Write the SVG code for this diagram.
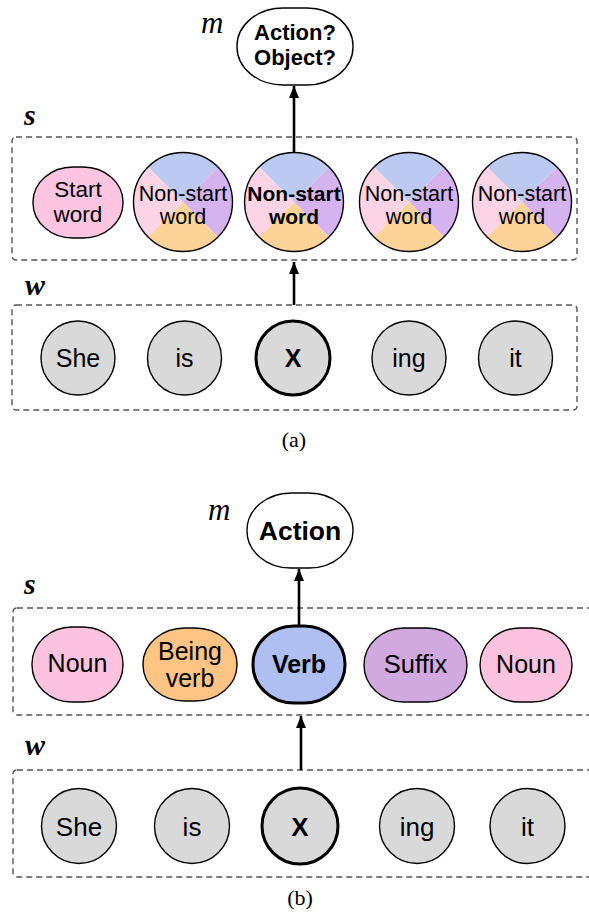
<svg xmlns="http://www.w3.org/2000/svg" xmlns:xlink="http://www.w3.org/1999/xlink" width="589" height="914" viewBox="0 0 589 914">
<style>
.lbl{font-family:"Liberation Sans",Arial,sans-serif;fill:#000;text-anchor:middle}
.b{font-weight:bold}
.var{font-family:"Liberation Serif","Times New Roman",serif;font-style:italic;fill:#000}
.cap{font-family:"Liberation Serif","Times New Roman",serif;fill:#000;text-anchor:middle;font-size:22px}
.box{fill:none;stroke:#555;stroke-width:1.4;stroke-dasharray:6 4}
.wn{fill:#d9d9d9;stroke:#000;stroke-width:1.4}
.thick{stroke-width:3}
.edge{stroke:#000;stroke-width:2.6;fill:none}
.ring{fill:none;stroke:#000;stroke-width:1.4}
</style>
<defs>
<marker id="ah" markerUnits="userSpaceOnUse" markerWidth="14" markerHeight="12" refX="12" refY="5" orient="auto">
<path d="M0,0 L12,5 L0,10 Z" fill="#000"/>
</marker>
<g id="quad">
<path d="M0,0 L-35,-35 A49.5,49.5 0 0 1 35,-35 Z" fill="#bccaf2"/>
<path d="M0,0 L35,-35 A49.5,49.5 0 0 1 35,35 Z" fill="#d5b3ee"/>
<path d="M0,0 L35,35 A49.5,49.5 0 0 1 -35,35 Z" fill="#fdd398"/>
<path d="M0,0 L-35,35 A49.5,49.5 0 0 1 -35,-35 Z" fill="#fdd4e6"/>
</g>
</defs>
<rect width="589" height="914" fill="#fff"/>

<!-- (a) -->
<text class="var" x="201" y="33" font-size="31">m</text>
<text class="var b" x="24" y="125" font-size="30">s</text>
<text class="var b" x="25" y="295" font-size="30">w</text>
<rect id="a_s_box" class="box" x="12" y="137" width="565" height="123" rx="4"/>
<rect id="a_w_box" class="box" x="12" y="305" width="565" height="105" rx="4"/>

<g id="a_m">
<rect x="237" y="8" width="116" height="77" rx="46" ry="38" fill="#fff" stroke="#000" stroke-width="1.4"/>
<text class="lbl b" x="295" y="40" font-size="22">Action?</text>
<text class="lbl b" x="295" y="65" font-size="22">Object?</text>
</g>

<g id="a_s1">
<rect x="33" y="167" width="90" height="71" rx="40" ry="35" fill="#fdc5e0" stroke="#000" stroke-width="1.4"/>
<text class="lbl" x="78" y="197" font-size="22.5">Start</text>
<text class="lbl" x="78" y="222" font-size="22.5">word</text>
</g>
<g id="a_s2">
<use xlink:href="#quad" x="183" y="202"/>
<circle class="ring" cx="183" cy="202" r="49.5"/>
<text class="lbl" x="183" y="201" font-size="21.5">Non-start</text>
<text class="lbl" x="183" y="224" font-size="21.5">word</text>
</g>
<g id="a_s3">
<use xlink:href="#quad" x="294" y="202"/>
<circle class="ring thick" cx="294" cy="202" r="49.5"/>
<text class="lbl b" x="294" y="201" font-size="21">Non-start</text>
<text class="lbl b" x="294" y="224" font-size="21">word</text>
</g>
<g id="a_s4">
<use xlink:href="#quad" x="409" y="202"/>
<circle class="ring" cx="409" cy="202" r="49.5"/>
<text class="lbl" x="409" y="201" font-size="21.5">Non-start</text>
<text class="lbl" x="409" y="224" font-size="21.5">word</text>
</g>
<g id="a_s5">
<use xlink:href="#quad" x="522" y="202"/>
<circle class="ring" cx="522" cy="202" r="49.5"/>
<text class="lbl" x="522" y="201" font-size="21.5">Non-start</text>
<text class="lbl" x="522" y="224" font-size="21.5">word</text>
</g>

<g id="a_w1"><circle class="wn" cx="78" cy="358" r="37"/><text class="lbl" x="78" y="367" font-size="25">She</text></g>
<g id="a_w2"><circle class="wn" cx="184.5" cy="358" r="37"/><text class="lbl" x="184.5" y="367" font-size="25">is</text></g>
<g id="a_w3"><circle class="wn thick" cx="293" cy="358" r="37"/><text class="lbl b" x="293" y="367" font-size="25">X</text></g>
<g id="a_w4"><circle class="wn" cx="409" cy="358" r="37"/><text class="lbl" x="409" y="367" font-size="25">ing</text></g>
<g id="a_w5"><circle class="wn" cx="515.5" cy="358" r="37"/><text class="lbl" x="515.5" y="367" font-size="25">it</text></g>

<text class="cap" x="294" y="447">(a)</text>

<!-- (b) -->
<text class="var" x="208" y="520" font-size="31">m</text>
<text class="var b" x="24" y="594" font-size="30">s</text>
<text class="var b" x="25" y="755" font-size="30">w</text>
<rect id="b_s_box" class="box" x="13" y="608" width="600" height="107" rx="4"/>
<rect id="b_w_box" class="box" x="13" y="770" width="600" height="107" rx="4"/>

<g id="b_m">
<rect x="247" y="493" width="106" height="75" rx="44" ry="37" fill="#fff" stroke="#000" stroke-width="1.4"/>
<text class="lbl b" x="300" y="540" font-size="26.5">Action</text>
</g>

<g id="b_s1">
<rect x="32" y="627" width="91" height="75" rx="40" ry="37" fill="#fdc2de" stroke="#000" stroke-width="1.4"/>
<text class="lbl" x="77.5" y="672" font-size="25">Noun</text>
</g>
<g id="b_s2">
<rect x="143" y="628" width="94" height="73" rx="42" ry="36" fill="#fdc483" stroke="#000" stroke-width="1.4"/>
<text class="lbl" x="190" y="660" font-size="25">Being</text>
<text class="lbl" x="190" y="687" font-size="25">verb</text>
</g>
<g id="b_s3">
<rect x="253" y="626" width="92" height="77" rx="41" ry="38" fill="#afbff2" stroke="#000" stroke-width="3"/>
<text class="lbl b" x="299" y="673" font-size="25">Verb</text>
</g>
<g id="b_s4">
<rect x="364" y="628" width="103" height="74" rx="40" ry="37" fill="#d1a9de" stroke="#000" stroke-width="1.4"/>
<text class="lbl" x="415.5" y="673" font-size="25.5">Suffix</text>
</g>
<g id="b_s5">
<rect x="480" y="628" width="92" height="74" rx="40" ry="37" fill="#fdc2de" stroke="#000" stroke-width="1.4"/>
<text class="lbl" x="526" y="673" font-size="25">Noun</text>
</g>

<g id="b_w1"><circle class="wn" cx="79" cy="826" r="37.5"/><text class="lbl" x="79" y="836" font-size="26">She</text></g>
<g id="b_w2"><circle class="wn" cx="192" cy="826" r="37.5"/><text class="lbl" x="192" y="836" font-size="26">is</text></g>
<g id="b_w3"><circle class="wn thick" cx="300" cy="826" r="38"/><text class="lbl b" x="300" y="836" font-size="26">X</text></g>
<g id="b_w4"><circle class="wn" cx="417" cy="826" r="37.5"/><text class="lbl" x="417" y="836" font-size="26">ing</text></g>
<g id="b_w5"><circle class="wn" cx="527.5" cy="826" r="37.5"/><text class="lbl" x="527.5" y="836" font-size="26">it</text></g>

<text class="cap" x="300" y="905" font-size="23">(b)</text>

<g id="connectors">
<line class="edge" x1="294" y1="152" x2="294" y2="86" marker-end="url(#ah)"/>
<line class="edge" x1="294" y1="305" x2="294" y2="262" marker-end="url(#ah)"/>
<line class="edge" x1="299" y1="626" x2="299" y2="569" marker-end="url(#ah)"/>
<line class="edge" x1="301" y1="770" x2="301" y2="716" marker-end="url(#ah)"/>
</g>
</svg>
